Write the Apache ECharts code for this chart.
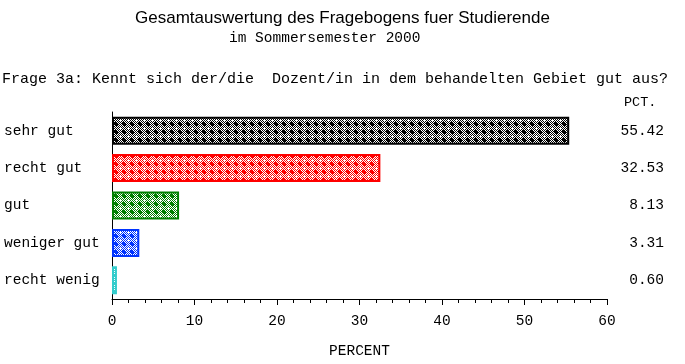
<!DOCTYPE html>
<html><head><meta charset="utf-8">
<script src="https://cdn.jsdelivr.net/npm/echarts@6/dist/echarts.min.js"></script>
<style>html,body{margin:0;padding:0;background:#fff}#c{width:685px;height:364px}</style>
</head><body><div id="c"></div>
<script>
const categories = ['sehr gut','recht gut','gut','weniger gut','recht wenig'];
const values = [55.42, 32.53, 8.13, 3.31, 0.60];
const colors = ['#000000','#ff0000','#008000','#0033ff','#33cccc'];
const xTicks = [0, 10, 20, 30, 40, 50, 60];

const MONO = '"Liberation Mono","DejaVu Sans Mono",monospace';

function makePattern(color){
  const s = 8;
  const cv = document.createElement('canvas');
  cv.width = s; cv.height = s;
  const ctx = cv.getContext('2d');
  ctx.fillStyle = '#fff'; ctx.fillRect(0,0,s,s);
  ctx.fillStyle = color;
  for (let y=0;y<s;y++) for (let x=0;x<s;x++) if ((x+y)%2===0) ctx.fillRect(x,y,1,1);
  ctx.fillRect(3,2,2,4); ctx.fillRect(2,3,4,2);
  ctx.fillStyle = '#fff';
  ctx.fillRect(0,0,1,1);
  return cv;
}

const chart = echarts.init(document.getElementById('c'), null, {renderer:'canvas'});
chart.setOption({
  animation:false,
  backgroundColor:'#fff',
  title:[
    {text:'Gesamtauswertung des Fragebogens fuer Studierende', left:'center', top:5,
     textStyle:{fontFamily:'"Liberation Sans",Arial,sans-serif', fontSize:17, fontWeight:'normal', color:'#000'}},
    {text:'im Sommersemester 2000', left:224, top:26,
     textStyle:{fontFamily:MONO, fontSize:14.5, fontWeight:'normal', color:'#000'}},
    {text:'Frage 3a: Kennt sich der/die  Dozent/in in dem behandelten Gebiet gut aus?', left:-3, top:67,
     textStyle:{fontFamily:MONO, fontSize:15, fontWeight:'normal', color:'#000'}},
    {text:'PCT.', left:619, top:90,
     textStyle:{fontFamily:MONO, fontSize:13.5, fontWeight:'normal', color:'#000'}}
  ],
  grid:{left:112, right:78, top:112, bottom:64, containLabel:false},
  xAxis:{
    type:'value', min:xTicks[0], max:xTicks[xTicks.length-1], interval:10,
    name:'PERCENT', nameLocation:'middle', nameGap:45,
    nameTextStyle:{fontFamily:MONO, fontSize:14.5, color:'#000'},
    axisLine:{show:true, lineStyle:{color:'#000', width:1}},
    axisTick:{show:true, inside:false, length:6, lineStyle:{color:'#000'}},
    minorTick:{show:true, splitNumber:5, length:4, lineStyle:{color:'#000'}},
    axisLabel:{fontFamily:MONO, fontSize:14.5, color:'#000', margin:15},
    splitLine:{show:false}
  },
  yAxis:[
    {type:'category', data:categories, inverse:true,
     axisLine:{show:true, onZero:false, lineStyle:{color:'#000', width:1}},
     axisTick:{show:false},
     axisLabel:{fontFamily:MONO, fontSize:14.5, color:'#000', align:'left', margin:108}},
    {type:'category', data:categories, inverse:true, position:'right',
     axisLine:{show:false}, axisTick:{show:false},
     axisLabel:{fontFamily:MONO, fontSize:14.5, color:'#000', align:'right', margin:57,
       formatter:(v,i)=>values[i].toFixed(2)}}
  ],
  series:[{
    type:'bar', barWidth:28,
    data:values.map((v,i)=>({value:v, itemStyle:{
      color:{image:makePattern(colors[i]), repeat:'repeat'},
      borderColor:colors[i], borderWidth:2}})),
  }]
});
</script></body></html>
